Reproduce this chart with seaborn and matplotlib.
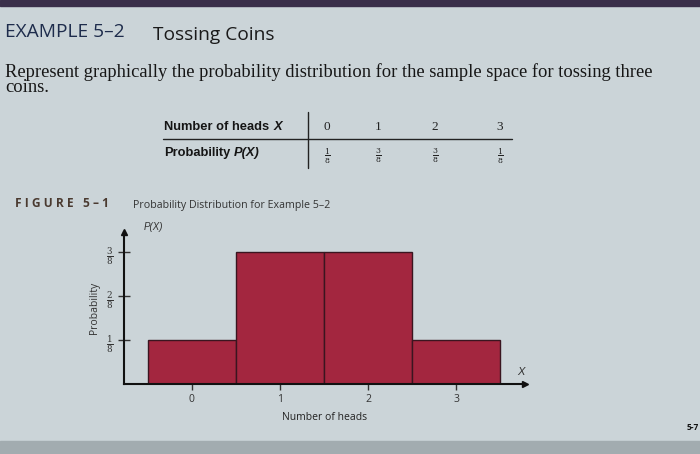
import matplotlib
matplotlib.use("Agg")
import matplotlib.pyplot as plt
import seaborn as sns
import pandas as pd

heads = ["0", "1", "2", "3"]
probs = [1/8, 3/8, 3/8, 1/8]
prob_labels = [r"$\frac{1}{8}$", r"$\frac{3}{8}$", r"$\frac{3}{8}$", r"$\frac{1}{8}$"]
yticks = [1/8, 2/8, 3/8]
ytick_labels = [r"$\frac{1}{8}$", r"$\frac{2}{8}$", r"$\frac{3}{8}$"]

sns.set_style("ticks")
plt.rcParams["font.family"] = ["Open Sans", "DejaVu Sans"]
plt.rcParams["mathtext.fontset"] = "dejavuserif"

BG = "#cbd4d8"
BAR = "#a3263f"

fig = plt.figure(figsize=(7.0, 4.54), dpi=100)
fig.patch.set_facecolor(BG)

# page decorations
fig.patches.append(plt.Rectangle((0, 1 - 6/454), 1, 6/454, transform=fig.transFigure,
                                 color="#3a2f4a", zorder=0))
fig.patches.append(plt.Rectangle((0, 0), 1, 13/454, transform=fig.transFigure,
                                 color="#a2acb0", zorder=0))

def px(x, y):
    return x / 700, 1 - y / 454

# header texts
fig.text(*px(5, 32), "EXAMPLE 5–2", fontsize=13.8, color="#1e2c4c", va="center", ha="left")
fig.text(*px(153, 35), "Tossing Coins", fontsize=13.8, color="#1a1a1a", va="center", ha="left")
fig.text(*px(5, 72), "Represent graphically the probability distribution for the sample space for tossing three",
         fontsize=13.3, family="Liberation Serif", color="#161616", va="center", ha="left")
fig.text(*px(5, 88), "coins.", fontsize=13.3, family="Liberation Serif", color="#161616",
         va="center", ha="left")

# table
fig.text(*px(164, 127), "Number of heads", fontsize=9.3, fontweight="bold",
         family="Liberation Sans", color="#151515", va="center", ha="left")
fig.text(*px(274, 127), "X", fontsize=9.3, fontweight="bold", fontstyle="italic",
         family="Liberation Sans", color="#151515", va="center", ha="left")
fig.text(*px(164, 153), "Probability", fontsize=9.3, fontweight="bold",
         family="Liberation Sans", color="#151515", va="center", ha="left")
fig.text(*px(234, 153), "P(X)", fontsize=9.3, fontweight="bold", fontstyle="italic",
         family="Liberation Sans", color="#151515", va="center", ha="left")
col_x = [327, 378, 435, 500]
for cx, h, pl in zip(col_x, heads, prob_labels):
    fig.text(*px(cx, 127), h, fontsize=9.5, family="Liberation Serif", color="#222",
             va="center", ha="center")
    fig.text(*px(cx, 156), pl, fontsize=8, color="#222", va="center", ha="center")
fig.add_artist(plt.Line2D([163/700, 512/700], [1 - 139/454, 1 - 139/454],
                          transform=fig.transFigure, color="#222", lw=1))
fig.add_artist(plt.Line2D([308/700, 308/700], [1 - 112/454, 1 - 168/454],
                          transform=fig.transFigure, color="#222", lw=1))

# figure caption
fig.text(*px(15, 204), "F I G U R E   5 – 1", fontsize=8.6, fontweight="bold",
         color="#4a3a30", va="center", ha="left")
fig.text(*px(133, 205), "Probability Distribution for Example 5–2", fontsize=7.7,
         color="#333", va="center", ha="left")
fig.text(*px(687, 428), "5-7", fontsize=6, fontweight="bold", color="#111", va="center", ha="left")

# chart
ax = fig.add_axes([124/700, 70/454, (525 - 124)/700, (384 - 232)/454])
ax.set_facecolor(BG)
df = pd.DataFrame({"heads": heads, "prob": probs})
sns.barplot(data=df, x="heads", y="prob", width=1.0, color=BAR, saturation=1,
            edgecolor="#3a1520", linewidth=1, ax=ax)
ax.set_xlim(-0.77, 3.78)
ax.set_ylim(0, 0.432)
for s in ["top", "right"]:
    ax.spines[s].set_visible(False)
for s in ["left", "bottom"]:
    ax.spines[s].set_color("#111")
    ax.spines[s].set_linewidth(1.5)
ax.plot(1, 0, ">", color="#111", markersize=5, transform=ax.transAxes, clip_on=False)
ax.plot(0, 1, "^", color="#111", markersize=5, transform=ax.transAxes, clip_on=False)
ax.set_yticks(yticks)
ax.set_yticklabels(ytick_labels, fontsize=9, color="#333")
ax.tick_params(axis="both", direction="inout", length=8, width=1, color="#333")
ax.tick_params(axis="x", labelsize=7.5, labelcolor="#333", pad=3)
ax.set_xlabel("Number of heads", fontsize=7.5, color="#222", labelpad=5)
ax.set_ylabel("Probability", fontsize=7.5, color="#333", labelpad=4)
ax.text(0.05, 1.03, "P(X)", transform=ax.transAxes, fontsize=7, color="#333",
        fontstyle="italic", ha="left", va="center", family="Liberation Sans")
ax.text(0.99, 0.08, "X", transform=ax.transAxes, fontsize=8, color="#333",
        fontstyle="italic", ha="center", va="center", family="Liberation Sans")

fig.savefig("out.png", dpi=100, facecolor=BG)
